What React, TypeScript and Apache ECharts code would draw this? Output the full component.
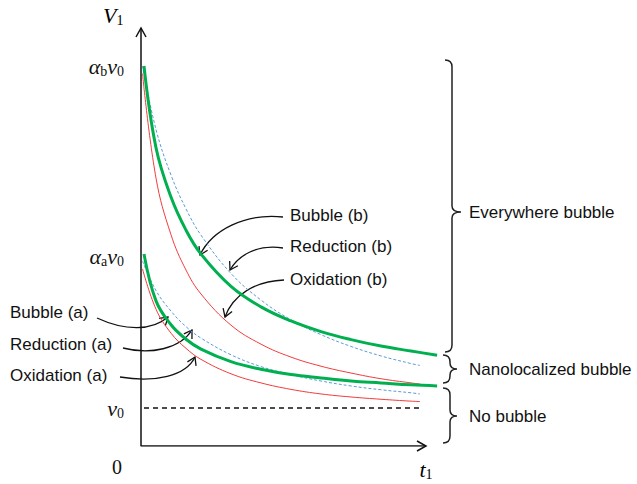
import React, { useEffect, useRef } from "react";
import * as echarts from "echarts";

// ---- data (t in axis units, V in units of v0) ----
const tShort = [0.05, 0.5, 1, 1.5, 2, 3, 4, 5, 6, 7, 8, 9, 9.3];
const tLong = [0.1, 0.5, 1, 1.5, 2, 3, 4, 5, 6, 7, 8, 9, 9.87];

const bubbleB = [10.0, 7.85, 6.55, 5.68, 5.05, 4.2, 3.66, 3.29, 3.01, 2.8, 2.63, 2.5, 2.39];
const reductionB = [10.0, 8.33, 7.13, 6.24, 5.55, 4.54, 3.84, 3.32, 2.93, 2.62, 2.37, 2.17, 2.12];
const oxidationB = [9.8, 7.05, 5.56, 4.63, 4.0, 3.18, 2.68, 2.34, 2.1, 1.92, 1.77, 1.66, 1.63];

const bubbleA = [5.05, 3.82, 3.19, 2.81, 2.55, 2.22, 2.02, 1.88, 1.79, 1.71, 1.66, 1.61, 1.58];
const reductionA = [4.87, 4.09, 3.55, 3.14, 2.84, 2.4, 2.09, 1.88, 1.71, 1.58, 1.48, 1.4, 1.37];
const oxidationA = [4.66, 3.6, 2.97, 2.57, 2.28, 1.9, 1.66, 1.49, 1.37, 1.29, 1.23, 1.18, 1.17];

const noBubbleLevel = 1;
const noBubbleSpan = [0.1, 9.3];

const yTickValues = [1, 5, 10];
const yTickLabels = ["{i|v}{s|0}", "{i|α}{s|a}{i|v}{s|0}", "{i|α}{s|b}{i|v}{s|0}"];
const yAxisTop = 11;
const xAxisEnd = 9.5;

const curveLabels = ["Bubble (b)", "Reduction (b)", "Oxidation (b)", "Bubble (a)", "Reduction (a)", "Oxidation (a)"];
const regionLabels = ["Everywhere bubble", "Nanolocalized bubble", "No bubble"];
const axisNames = ["{i|V}{s|1}", "{i|t}{s|1}", "0"];

const GREEN = "#00b050";
const RED = "#f03c3c";
const BLUE = "#5b9bd5";
const INK = "#111111";

function braceD(xl: number, y1: number, y2: number, ym: number, xTip: number) {
  return (
    `M${xl - 7},${y1} Q${xl},${y1} ${xl},${y1 + 7} L${xl},${ym - 6} ` +
    `Q${xl},${ym} ${xTip},${ym} Q${xl},${ym} ${xl},${ym + 6} ` +
    `L${xl},${y2 - 7} Q${xl},${y2} ${xl - 7},${y2}`
  );
}

export default function App() {
  const ref = useRef<HTMLDivElement>(null);

  useEffect(() => {
    if (!ref.current) return;
    const chart = echarts.init(ref.current, null, { renderer: "svg" });
    const pair = (ts: number[], vs: number[]) => ts.map((t, i) => [t, vs[i]]);

    const serifRich = {
      i: { fontFamily: "Liberation Serif", fontStyle: "italic", fontSize: 22, lineHeight: 24, color: INK },
      s: { fontFamily: "Liberation Serif", fontSize: 14, lineHeight: 14, verticalAlign: "bottom", color: INK },
    };

    const curve = (name: string, ts: number[], vs: number[], color: string, width: number, type: any) => ({
      name,
      type: "line",
      data: pair(ts, vs),
      smooth: 0.4,
      showSymbol: false,
      symbol: "none",
      silent: true,
      lineStyle: { color, width, type },
    });

    chart.setOption({
      animation: false,
      backgroundColor: "#ffffff",
      grid: { left: 141, right: 196, top: 28, bottom: 38, containLabel: false, outerBoundsMode: "none" },
      xAxis: {
        type: "value",
        min: 0,
        max: 10,
        axisLine: { show: false },
        axisTick: { show: false },
        axisLabel: { show: false },
        splitLine: { show: false },
      },
      yAxis: {
        type: "value",
        min: 0,
        max: yAxisTop,
        interval: 1,
        axisLine: { show: false },
        axisTick: { show: false },
        splitLine: { show: false },
        axisLabel: {
          margin: 17,
          formatter: (v: number) => {
            const k = yTickValues.indexOf(v);
            return k >= 0 ? yTickLabels[k] : "";
          },
          rich: serifRich,
        },
      },
      series: [
        {
          name: "axes",
          type: "line",
          data: [[0, yAxisTop], [0, 0], [xAxisEnd, 0]],
          symbol: "none",
          silent: true,
          lineStyle: { color: INK, width: 1.5 },
        },
        {
          name: "v0 level",
          type: "line",
          data: [[noBubbleSpan[0], noBubbleLevel], [noBubbleSpan[1], noBubbleLevel]],
          symbol: "none",
          silent: true,
          lineStyle: { color: INK, width: 1.5, type: [5, 4] },
        },
        curve("Oxidation (b)", tShort, oxidationB, RED, 1, "solid"),
        curve("Oxidation (a)", tShort, oxidationA, RED, 1, "solid"),
        curve("Reduction (b)", tShort, reductionB, BLUE, 1, [3, 2]),
        curve("Reduction (a)", tShort, reductionA, BLUE, 1, [3, 2]),
        curve("Bubble (b)", tLong, bubbleB, GREEN, 3, "solid"),
        curve("Bubble (a)", tLong, bubbleA, GREEN, 3, "solid"),
      ],
    });

    const p = (t: number, v: number) => chart.convertToPixel({ gridIndex: 0 }, [t, v]) as number[];
    const graphics: any[] = [];

    // axis arrow heads (open chevrons)
    const yTip = p(0, yAxisTop);
    const xTip = p(xAxisEnd, 0);
    graphics.push({
      type: "polyline",
      shape: { points: [[yTip[0] - 5, yTip[1] + 9], yTip, [yTip[0] + 5, yTip[1] + 9]] },
      style: { stroke: INK, lineWidth: 1.5, fill: null },
    });
    graphics.push({
      type: "polyline",
      shape: { points: [[xTip[0] - 9, xTip[1] - 5], xTip, [xTip[0] - 9, xTip[1] + 5]] },
      style: { stroke: INK, lineWidth: 1.5, fill: null },
    });

    // axis names
    graphics.push({
      type: "text",
      style: { text: axisNames[0], rich: serifRich, x: 103, y: 15, verticalAlign: "middle", align: "left" },
    });
    graphics.push({
      type: "text",
      style: { text: axisNames[1], rich: serifRich, x: 426, y: 469, verticalAlign: "middle", align: "center" },
    });
    graphics.push({
      type: "text",
      style: {
        text: axisNames[2],
        x: 117,
        y: 467,
        fontFamily: "Liberation Serif",
        fontSize: 20,
        fill: INK,
        verticalAlign: "middle",
        align: "center",
      },
    });

    // curve labels and arrows
    const labelPos = [
      [290, 215],
      [290, 246],
      [290, 279],
      [10, 312],
      [10, 344],
      [10, 375],
    ];
    curveLabels.forEach((txt, i) => {
      graphics.push({
        type: "text",
        style: {
          text: txt,
          x: labelPos[i][0],
          y: labelPos[i][1],
          fontFamily: "Liberation Sans",
          fontSize: 17,
          fill: INK,
          verticalAlign: "middle",
          align: "left",
        },
      });
    });

    const arrows = [
      { s: [283, 217], c1: [245, 213], c2: [212, 230], e: [200, 255] },
      { s: [283, 248], c1: [256, 244], c2: [238, 256], e: [230, 270] },
      { s: [284, 280], c1: [255, 281], c2: [233, 295], e: [225, 317] },
      { s: [97, 318], c1: [125, 331], c2: [152, 331], e: [168, 317] },
      { s: [123, 348], c1: [150, 355], c2: [180, 349], e: [192, 330] },
      { s: [120, 377], c1: [155, 383], c2: [186, 376], e: [195, 357] },
    ];
    arrows.forEach((a) => {
      graphics.push({
        type: "bezierCurve",
        shape: {
          x1: a.s[0], y1: a.s[1],
          cpx1: a.c1[0], cpy1: a.c1[1],
          cpx2: a.c2[0], cpy2: a.c2[1],
          x2: a.e[0], y2: a.e[1],
        },
        style: { stroke: INK, lineWidth: 1.3, fill: null },
      });
      const dx = a.e[0] - a.c2[0];
      const dy = a.e[1] - a.c2[1];
      const len = Math.hypot(dx, dy) || 1;
      const ux = -dx / len;
      const uy = -dy / len;
      const ang = (32 * Math.PI) / 180;
      const L = 9;
      const rot = (c: number, s: number) => [a.e[0] + L * (ux * c - uy * s), a.e[1] + L * (ux * s + uy * c)];
      graphics.push({
        type: "polyline",
        shape: { points: [rot(Math.cos(ang), Math.sin(ang)), a.e, rot(Math.cos(ang), -Math.sin(ang))] },
        style: { stroke: INK, lineWidth: 1.3, fill: null },
      });
    });

    // braces
    const braces = [
      { xl: 452, y1: 60, y2: 352, ym: 212, tip: 461 },
      { xl: 450, y1: 355, y2: 383, ym: 369, tip: 457 },
      { xl: 450, y1: 388, y2: 443, ym: 416, tip: 457 },
    ];
    braces.forEach((b, i) => {
      const name = "brace" + i;
      echarts.graphic.registerShape(name, echarts.graphic.extendPath(braceD(b.xl, b.y1, b.y2, b.ym, b.tip), {}) as any);
      graphics.push({
        type: name,
        x: 0,
        y: 0,
        style: { stroke: "#222", lineWidth: 1.5, fill: null },
      });
      graphics.push({
        type: "text",
        style: {
          text: regionLabels[i],
          x: 469,
          y: b.ym,
          fontFamily: "Liberation Sans",
          fontSize: 17,
          fill: INK,
          verticalAlign: "middle",
          align: "left",
        },
      });
    });

    chart.setOption({ graphic: graphics });

    return () => chart.dispose();
  }, []);

  return (
    <div
      ref={ref}
      style={{ position: "fixed", left: 0, top: 0, width: 637, height: 484, background: "#fff" }}
    />
  );
}
